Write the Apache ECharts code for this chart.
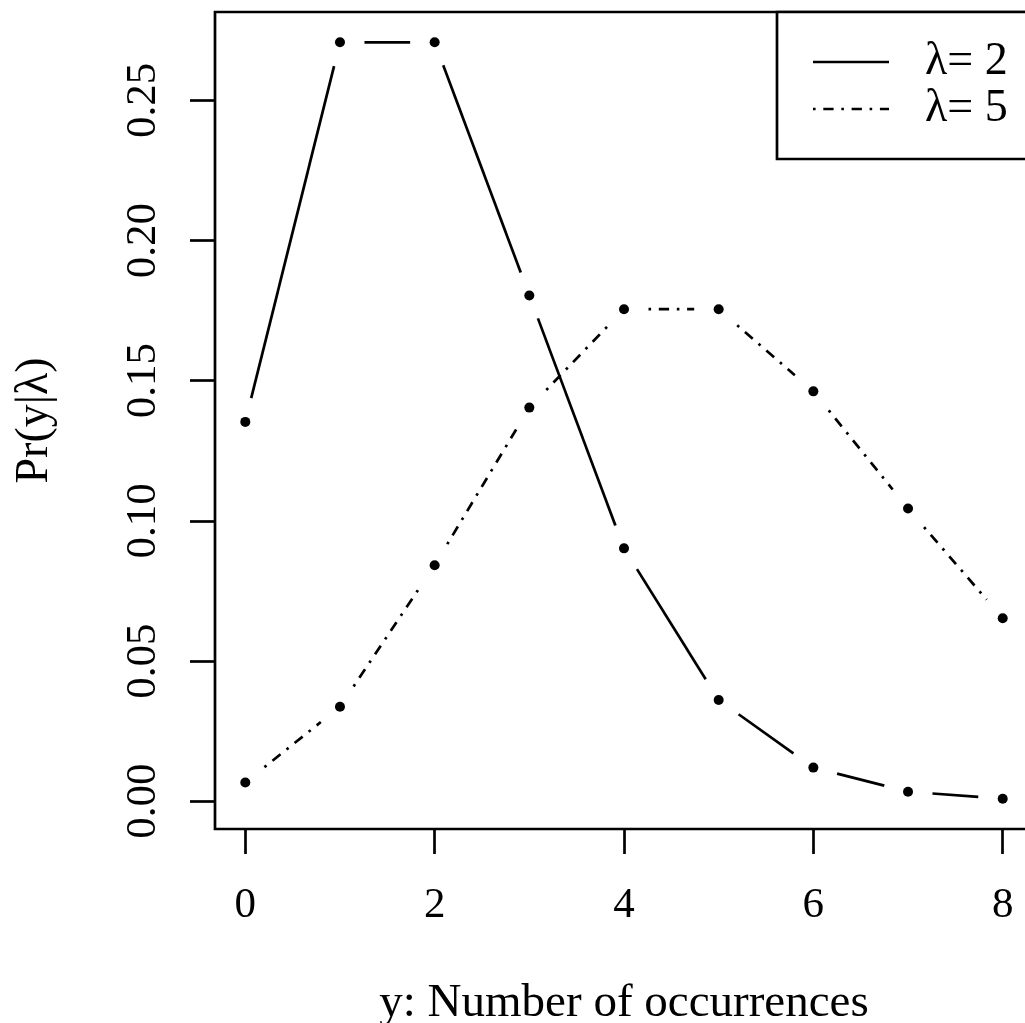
<!DOCTYPE html>
<html>
<head>
<meta charset="utf-8">
<script src="https://cdn.jsdelivr.net/npm/echarts@6/dist/echarts.min.js"></script>
<style>
html,body{margin:0;padding:0;background:#fff;}
#chart{width:1025px;height:1023px;}
</style>
</head>
<body>
<div id="chart"></div>
<script>
// ---- data ----
const xValues = [0, 1, 2, 3, 4, 5, 6, 7, 8];
const lambda2 = [0.1353, 0.2707, 0.2707, 0.1804, 0.0902, 0.0361, 0.0120, 0.0034, 0.0009];
const lambda5 = [0.0067, 0.0337, 0.0842, 0.1404, 0.1755, 0.1755, 0.1462, 0.1044, 0.0653];
const xTicks = [0, 2, 4, 6, 8];
const yTicks = [0.00, 0.05, 0.10, 0.15, 0.20, 0.25];
const legendLabels = ['λ= 2', 'λ= 5'];
const xTitle = 'y: Number of occurrences';
const yTitle = 'Pr(y|λ)';

// ---- style ----
const FONT = '"Liberation Serif", "Times New Roman", serif';
const LW = 2.7;
const GAP = 24.5;
const DOTDASH = [2.6, 7.7, 10.3, 7.7];

function segments(xs, ys) {
  const out = [];
  for (let i = 0; i < xs.length - 1; i++) out.push([xs[i], ys[i], xs[i + 1], ys[i + 1]]);
  return out;
}
function points(xs, ys) { return xs.map((x, i) => [x, ys[i]]); }

function makeRender(dash) {
  return function (params, api) {
    const p0 = api.coord([api.value(0), api.value(1)]);
    const p1 = api.coord([api.value(2), api.value(3)]);
    const dx = p1[0] - p0[0], dy = p1[1] - p0[1];
    const len = Math.sqrt(dx * dx + dy * dy);
    if (len <= 2 * GAP) return null;
    const ux = dx / len, uy = dy / len;
    return {
      type: 'line',
      shape: { x1: p0[0] + ux * GAP, y1: p0[1] + uy * GAP, x2: p1[0] - ux * GAP, y2: p1[1] - uy * GAP },
      style: { stroke: '#000', lineWidth: LW, lineDash: dash, lineCap: 'butt', fill: null }
    };
  };
}

const chart = echarts.init(document.getElementById('chart'), null, { renderer: 'canvas' });
chart.setOption({
  animation: false,
  backgroundColor: '#fff',
  grid: { left: 215, top: 12, right: -8, bottom: 194, show: true, borderColor: '#000', borderWidth: LW, backgroundColor: 'transparent', containLabel: false, outerBoundsMode: 'none' },
  xAxis: {
    type: 'value', min: -0.32, max: 8.32,
    name: xTitle, nameLocation: 'middle', nameGap: 151,
    nameTextStyle: { fontFamily: FONT, fontSize: 47, color: '#000' },
    axisLine: { show: false, onZero: false },
    splitLine: { show: false },
    axisTick: { show: true, inside: false, length: 25, customValues: xTicks, lineStyle: { color: '#000', width: LW } },
    axisLabel: { show: true, customValues: xTicks, margin: 55, fontFamily: FONT, fontSize: 43, color: '#000', formatter: v => String(v) }
  },
  yAxis: {
    type: 'value', min: -0.0099, max: 0.2815,
    name: yTitle, nameLocation: 'middle', nameGap: 157, nameRotate: 90,
    nameTextStyle: { fontFamily: FONT, fontSize: 46, color: '#000' },
    axisLine: { show: false, onZero: false },
    splitLine: { show: false },
    axisTick: { show: true, inside: false, length: 25, customValues: yTicks, lineStyle: { color: '#000', width: LW } },
    axisLabel: { show: true, customValues: yTicks, rotate: 90, margin: 50, fontFamily: FONT, fontSize: 43, color: '#000', formatter: v => v.toFixed(2) }
  },
  series: [
    { type: 'custom', name: legendLabels[0], renderItem: makeRender(null), data: segments(xValues, lambda2), encode: { x: [0, 2], y: [1, 3] }, silent: true, z: 2 },
    { type: 'custom', name: legendLabels[1], renderItem: makeRender(DOTDASH), data: segments(xValues, lambda5), encode: { x: [0, 2], y: [1, 3] }, silent: true, z: 2 },
    { type: 'scatter', name: legendLabels[0] + ' pts', data: points(xValues, lambda2), symbol: 'circle', symbolSize: 10, itemStyle: { color: '#000', opacity: 1 }, silent: true, z: 3 },
    { type: 'scatter', name: legendLabels[1] + ' pts', data: points(xValues, lambda5), symbol: 'circle', symbolSize: 10, itemStyle: { color: '#000', opacity: 1 }, silent: true, z: 3 }
  ],
  graphic: [
    { type: 'rect', z: 100, shape: { x: 777, y: 12, width: 300, height: 147 }, style: { fill: '#fff', stroke: '#000', lineWidth: LW } },
    { type: 'line', z: 101, shape: { x1: 813, y1: 62, x2: 889, y2: 62 }, style: { stroke: '#000', lineWidth: LW } },
    { type: 'line', z: 101, shape: { x1: 813, y1: 109, x2: 889, y2: 109 }, style: { stroke: '#000', lineWidth: LW, lineDash: DOTDASH } },
    { type: 'text', z: 101, x: 925, y: 62, style: { text: legendLabels[0], font: '46px ' + FONT, fill: '#000', textAlign: 'left', textVerticalAlign: 'middle' } },
    { type: 'text', z: 101, x: 925, y: 109, style: { text: legendLabels[1], font: '46px ' + FONT, fill: '#000', textAlign: 'left', textVerticalAlign: 'middle' } }
  ]
});
</script>
</body>
</html>
